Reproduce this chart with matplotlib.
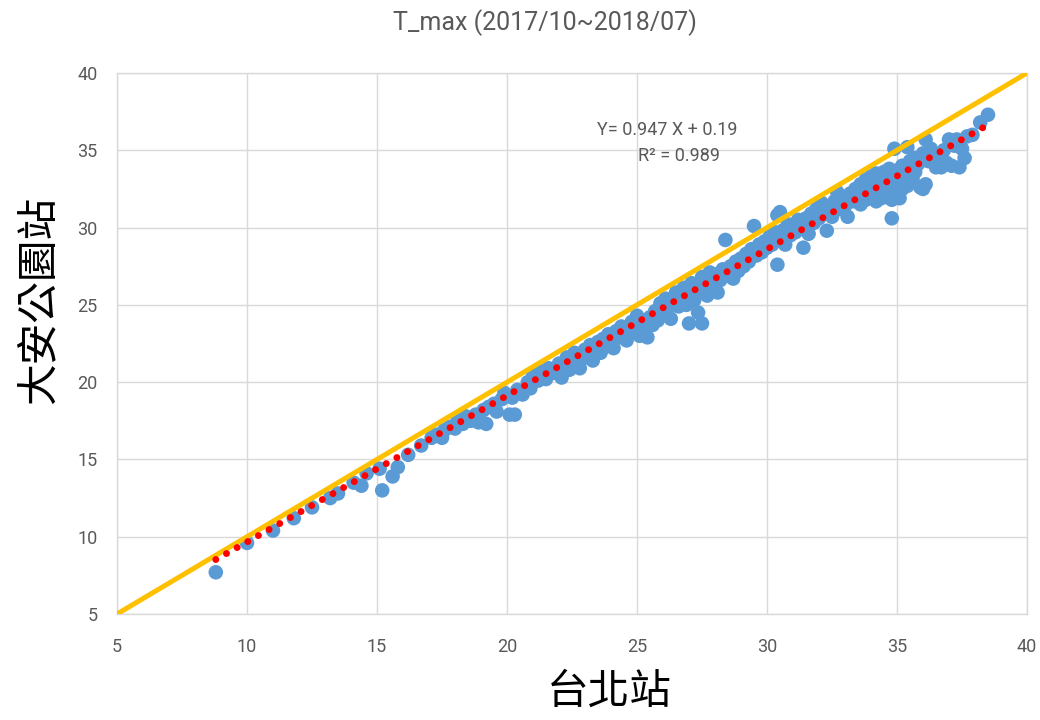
import matplotlib
matplotlib.use("Agg")
import matplotlib.pyplot as plt
import numpy as np

# Daily maximum temperature (°C): Taipei station vs. Da'an Park station
taipei = [
    8.8, 10.0, 11.0, 11.8, 12.5, 13.2, 13.5, 14.1, 14.4, 14.6, 15.1, 15.2, 15.6, 15.8, 16.2,
    16.7, 17.1, 17.5, 17.8,
    17.3, 17.6, 18.0, 18.1, 18.3, 18.4, 18.6, 18.8, 18.9, 19.1, 19.2, 19.3, 19.5, 19.6,
    19.8, 19.9, 20.1, 20.3, 20.2, 20.4, 20.6, 20.8, 20.9, 21.0,
    21.2, 21.3, 21.5, 21.6, 21.8, 22.0, 22.1, 22.2, 22.3, 22.4, 22.5, 22.6, 22.7, 22.8,
    22.9, 23.0, 23.1, 23.2, 23.3, 23.4, 23.5, 23.6, 23.7, 23.8, 23.9, 24.0, 24.1, 24.2,
    24.3, 24.4, 24.5, 24.6, 24.7, 24.8, 24.9, 25.0, 25.0, 25.1, 25.2, 25.3, 25.4, 25.5, 25.6,
    25.7, 25.8, 25.9, 26.0, 26.1, 26.2, 26.3, 26.4, 26.5, 26.6, 26.7, 26.8, 26.9, 27.0,
    27.0, 27.1, 27.2, 27.35, 27.4, 27.5, 27.5, 27.6, 27.7, 27.8, 27.9, 28.0, 28.1, 28.1,
    28.2, 28.3, 28.4, 28.5, 28.6, 28.7, 28.8, 28.9, 29.0, 29.1, 29.2,
    29.3, 29.4, 29.5, 29.6, 29.7, 29.8, 29.9, 30.0, 30.1, 30.2, 30.3, 30.4, 30.4, 30.5,
    30.5, 30.6, 30.7, 30.8, 30.9, 31.0, 31.1, 31.2, 31.4, 31.4, 31.5, 31.6, 31.7, 31.8,
    31.9, 32.0, 32.1, 32.2, 32.3, 32.4, 32.5, 32.6, 32.7, 32.8, 32.9, 33.0, 33.1,
    33.2, 33.3, 33.4, 33.5, 33.6, 33.6, 33.7, 33.8, 33.8, 33.9, 34.0, 34.0, 34.1, 34.2,
    34.2, 34.3, 34.4, 34.4, 34.5, 34.5, 34.6, 34.6, 34.7, 34.7, 34.8, 34.8, 34.8, 34.9,
    34.9, 35.0, 35.0, 35.0, 35.1, 35.1, 35.2, 35.2, 35.3, 35.4, 35.4, 35.5, 35.5, 35.6,
    35.7, 35.7, 35.8, 35.9, 36.0, 36.0, 36.1, 36.1, 36.2, 36.3, 36.4, 36.5,
    36.6, 36.7, 36.8, 36.9, 37.0, 37.1, 37.2, 37.3, 37.4, 37.5, 37.6, 37.7, 37.9, 38.2, 38.5,
]
daan = [
    7.7, 9.6, 10.4, 11.2, 11.9, 12.5, 12.8, 13.5, 13.3, 14.1, 14.4, 13.0, 13.9, 14.5, 15.3,
    15.9, 16.4, 16.4, 17.1,
    16.6, 16.9, 17.0, 17.5, 17.3, 17.8, 17.5, 17.9, 17.4, 18.2, 17.3, 18.4, 18.6, 18.1,
    18.9, 19.3, 17.9, 17.9, 19.0, 19.5, 19.2, 20.0, 19.6, 20.6,
    20.1, 20.7, 20.2, 20.9, 20.6, 21.2, 20.3, 21.0, 21.6, 20.8, 21.4, 21.9, 21.3, 20.9,
    21.8, 22.1, 21.6, 22.4, 21.4, 22.0, 22.6, 21.9, 22.8, 22.3, 23.1, 22.5, 22.2, 23.3,
    22.9, 23.6, 23.0, 22.7, 23.5, 23.9, 23.2, 24.3, 23.5, 23.0, 24.0, 23.4, 22.9, 24.2, 23.7,
    24.6, 24.0, 25.1, 24.4, 25.4, 24.8, 24.1, 25.2, 25.8, 24.9, 25.4, 26.1, 25.0, 23.8,
    25.7, 26.4, 25.3, 24.5, 26.0, 23.8, 26.8, 26.3, 25.6, 27.1, 26.5, 26.0, 25.8, 27.0,
    26.6, 27.3, 29.2, 26.9, 27.5, 26.7, 27.8, 27.2, 28.0, 27.5, 28.3,
    27.8, 28.6, 30.1, 28.2, 28.9, 28.4, 29.1, 28.7, 29.4, 28.9, 29.7, 27.6, 30.8, 31.0,
    29.2, 29.8, 28.9, 30.2, 29.5, 30.2, 29.7, 30.5, 28.7, 30.0, 30.6, 29.6, 30.9, 30.3,
    31.2, 30.6, 31.6, 30.9, 29.8, 31.3, 30.7, 31.7, 32.3, 31.2, 31.9, 31.4, 30.7,
    32.2, 31.7, 32.5, 31.9, 32.8, 31.5, 32.3, 33.1, 31.8, 32.6, 32.0, 33.3, 32.8, 31.7,
    33.5, 32.3, 33.0, 31.9, 33.6, 32.5, 32.0, 33.2, 32.7, 33.8, 30.6, 31.8, 32.3, 35.1,
    33.4, 32.0, 32.9, 33.7, 31.9, 33.1, 32.5, 34.0, 33.3, 35.2, 32.7, 33.8, 34.3, 33.1,
    34.5, 33.6, 34.1, 32.6, 32.5, 34.8, 35.7, 32.8, 34.3, 35.1, 34.7, 33.9,
    34.4, 33.9, 35.0, 34.2, 35.7, 34.0, 35.3, 35.7, 33.9, 35.1, 34.5, 35.9, 36.0, 36.8, 37.3,
]

# Linear trend reported on the chart
slope, intercept, r2 = 0.947, 0.19, 0.989

axis_range = [5, 40]
tick_values = [5, 10, 15, 20, 25, 30, 35, 40]

title_text = "T_max (2017/10~2018/07)"
x_label = "台北站"
y_label = "大安公園站"

grey_text = "#595959"
grid_grey = "#D9D9D9"
latin = ["Liberation Sans Narrow", "Roboto", "DejaVu Sans"]

fig = plt.figure(figsize=(10.4, 7.2), dpi=100)
ax = fig.add_axes([0.1125, 0.1472, 0.875, 0.7514])

ax.set_xlim(axis_range)
ax.set_ylim(axis_range)
ax.set_xticks(tick_values)
ax.set_yticks(tick_values)
ax.grid(True, color=grid_grey, linewidth=1.0)
ax.set_axisbelow(True)
for side in ax.spines.values():
    side.set_color(grid_grey)
    side.set_linewidth(1.0)
ax.tick_params(length=0, labelsize=13, labelcolor=grey_text)
ax.tick_params(axis="x", pad=17)
ax.tick_params(axis="y", pad=14)
for lab in ax.get_xticklabels() + ax.get_yticklabels():
    lab.set_family(latin)

ax.scatter(taipei, daan, s=110, color="#5B9BD5", edgecolors="none", zorder=3)

# 1:1 reference line
ax.plot(axis_range, axis_range, color="#FFC000", linewidth=3.6,
        solid_capstyle="butt", zorder=4)

# dotted regression line over the data range
xs = np.array([min(taipei), max(taipei)])
ax.plot(xs, slope * xs + intercept, color="#FF0000", linewidth=5.0,
        linestyle=(0, (0.01, 1.75)), dash_capstyle="round", zorder=5)

ax.text(0.605, 0.895, f"Y= {slope:.3f} X + {intercept:.2f}",
        transform=ax.transAxes, ha="center", va="center",
        fontsize=13, color=grey_text, family=latin)
ax.text(0.618, 0.847, f"R² = {r2:.3f}",
        transform=ax.transAxes, ha="center", va="center",
        fontsize=13, color=grey_text, family=latin)

fig.text(0.524, 0.968, title_text, ha="center", va="center",
         fontsize=18, color=grey_text, family=latin)
fig.text(0.586, 0.038, x_label, ha="center", va="center",
         fontsize=30, color="black", family=["Noto Sans CJK TC", "DejaVu Sans"])
fig.text(0.038, 0.583, y_label, ha="center", va="center", rotation=90,
         fontsize=30, color="black", family=["Noto Sans CJK TC", "DejaVu Sans"])

fig.savefig("out.png", dpi=100)
